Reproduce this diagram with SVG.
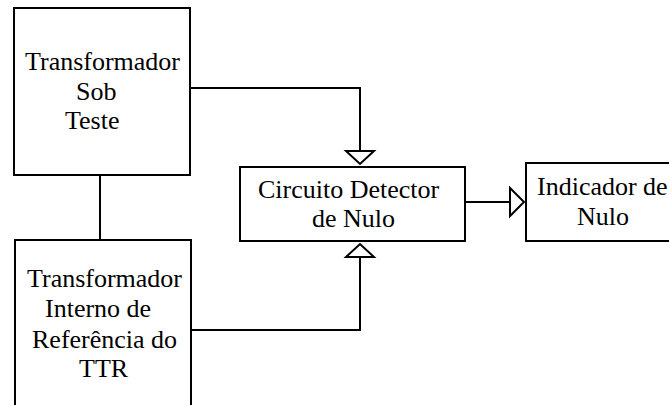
<svg xmlns="http://www.w3.org/2000/svg" width="669" height="405" viewBox="0 0 669 405">
  <style>
    .box { fill: #fff; stroke: #000; stroke-width: 2; }
    .wire { fill: none; stroke: #000; stroke-width: 2; }
    .head { fill: #fff; stroke: #000; stroke-width: 2; stroke-linejoin: miter; }
    .lbl { font-family: 'Liberation Serif', 'Times New Roman', Times, 'DejaVu Serif', serif; font-size: 26px; fill: #000; }
  </style>
  <rect width="669" height="405" fill="#fff"/>

  <g id="connectors">
    <!-- link between the two transformers -->
    <path class="wire" d="M100,175 V240"/>
    <!-- transformer under test to detector -->
    <path class="wire" d="M190,88 H360 V151"/>
    <polygon class="head" points="346,151 374,151 360,164"/>
    <!-- reference transformer to detector -->
    <path class="wire" d="M191,330 H360 V257"/>
    <polygon class="head" points="346,257 374,257 360,244"/>
    <!-- detector to indicator -->
    <path class="wire" d="M465,202 H510"/>
    <polygon class="head" points="510,188 510,216 524,202"/>
  </g>

  <g id="transformador-sob-teste">
    <rect class="box" x="14" y="8" width="176" height="167"/>
    <text class="lbl" x="25" y="70">Transformador</text>
    <text class="lbl" x="76" y="100">Sob</text>
    <text class="lbl" x="65" y="129">Teste</text>
  </g>

  <g id="transformador-referencia">
    <rect class="box" x="15" y="240" width="176" height="180"/>
    <text class="lbl" x="27" y="287">Transformador</text>
    <text class="lbl" x="45" y="317">Interno de</text>
    <text class="lbl" x="32" y="348">Referência do</text>
    <text class="lbl" x="79" y="377">TTR</text>
  </g>

  <g id="circuito-detector">
    <rect class="box" x="240" y="167" width="225" height="74"/>
    <text class="lbl" x="258" y="198">Circuito Detector</text>
    <text class="lbl" x="312" y="227">de Nulo</text>
  </g>

  <g id="indicador-nulo">
    <rect class="box" x="526" y="163" width="160" height="78"/>
    <text class="lbl" x="537" y="195">Indicador de</text>
    <text class="lbl" x="577" y="225">Nulo</text>
  </g>
</svg>
